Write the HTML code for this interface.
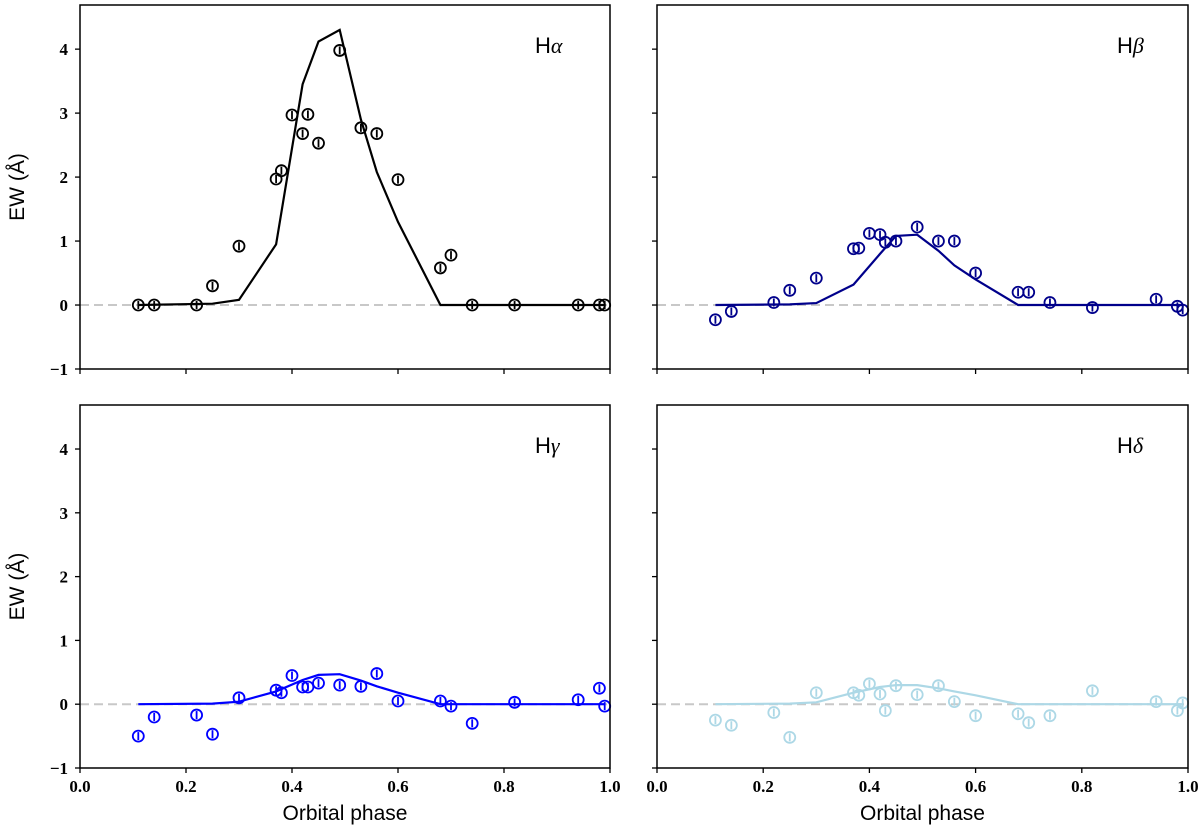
<!DOCTYPE html>
<html><head><meta charset="utf-8"><style>
body{margin:0;background:#fff}
</style></head><body>
<svg id="c" width="1200" height="829" xmlns="http://www.w3.org/2000/svg"></svg>
<script>
const phases=[0.11,0.14,0.22,0.25,0.30,0.37,0.38,0.40,0.42,0.43,0.45,0.49,0.53,0.56,0.60,0.68,0.70,0.74,0.82,0.94,0.98,0.99];
const haObs=[0,0,0,0.3,0.92,1.97,2.1,2.97,2.68,2.98,2.53,3.98,2.77,2.68,1.96,0.58,0.78,0,0,0,0,0];
const hbObs=[-0.23,-0.1,0.04,0.23,0.42,0.88,0.89,1.12,1.1,0.98,1.0,1.22,1.0,1.0,0.5,0.2,0.2,0.04,-0.04,0.09,-0.02,-0.08];
const hgObs=[-0.5,-0.2,-0.17,-0.47,0.1,0.22,0.18,0.45,0.27,0.27,0.33,0.3,0.28,0.48,0.05,0.05,-0.03,-0.3,0.03,0.07,0.25,-0.03];
const hdObs=[-0.25,-0.33,-0.13,-0.52,0.18,0.18,0.14,0.32,0.16,-0.1,0.29,0.15,0.29,0.04,-0.18,-0.15,-0.29,-0.18,0.21,0.04,-0.1,0.02];
const modelPhases=[0.11,0.25,0.30,0.37,0.42,0.45,0.49,0.53,0.56,0.60,0.68,0.74,0.99];
const haModel=[0,0.02,0.08,0.95,3.45,4.12,4.3,2.9,2.08,1.3,0,0,0];
const hbModel=[0,0.01,0.03,0.32,0.8,1.08,1.1,0.85,0.62,0.4,0,0,0];
const hgModel=[0,0.01,0.04,0.2,0.38,0.46,0.47,0.37,0.28,0.18,0,0,0];
const hdModel=[0,0.01,0.03,0.18,0.27,0.3,0.3,0.25,0.2,0.14,0,0,0];
const xTicks=[0,0.2,0.4,0.6,0.8,1.0];
const xTickLabels=["0.0","0.2","0.4","0.6","0.8","1.0"];
const yTicks=[-1,0,1,2,3,4];
const yTickLabels=["\u22121","0","1","2","3","4"];

const NS="http://www.w3.org/2000/svg";
const svg=document.getElementById('c');
const SERIF='Liberation Serif, serif', SANS='Liberation Sans, sans-serif';
function mk(tag,attrs,parent){const e=document.createElementNS(NS,tag);for(const k in attrs)e.setAttribute(k,attrs[k]);(parent||svg).appendChild(e);return e;}
const panels=[
 {key:'h-alpha',x0:80,x1:610,y0:5,y1:369,obs:haObs,mod:haModel,col:'#000000',lab:'α',lx:535,ly:53,left:true,bottom:false},
 {key:'h-beta',x0:657,x1:1188,y0:5,y1:369,obs:hbObs,mod:hbModel,col:'#00008b',lab:'β',lx:1117,ly:53,left:false,bottom:false},
 {key:'h-gamma',x0:80,x1:610,y0:405,y1:768,obs:hgObs,mod:hgModel,col:'#0000ff',lab:'γ',lx:535,ly:453,left:true,bottom:true},
 {key:'h-delta',x0:657,x1:1188,y0:405,y1:768,obs:hdObs,mod:hdModel,col:'#add8e6',lab:'δ',lx:1117,ly:453,left:false,bottom:true}
];
const YMIN=-1,YMAX=4.69;
panels.forEach(p=>{
  const g=mk('g',{});
  
  
  const X=v=>p.x0+(p.x1-p.x0)*v;
  const Y=v=>p.y1-(p.y1-p.y0)*(v-YMIN)/(YMAX-YMIN);
  const z=mk('line',{x1:p.x0,x2:p.x1,y1:Y(0),y2:Y(0),stroke:'#c8c8c8','stroke-width':2,'stroke-dasharray':'9,5'},g);
  
  const d=modelPhases.map((v,i)=>(i?'L':'M')+X(v).toFixed(1)+','+Y(p.mod[i]).toFixed(1)).join('');
  const ml=mk('path',{d:d,fill:'none',stroke:p.col,'stroke-width':2.2},g);
  
  phases.forEach((v,i)=>{
    const cx=X(v),cy=Y(p.obs[i]);
    const pt=mk('g',{},g);
    
    
    mk('circle',{cx:cx,cy:cy,r:5.5,fill:'none',stroke:p.col,'stroke-width':1.8},pt);
    mk('line',{x1:cx,x2:cx,y1:cy-4,y2:cy+4,stroke:p.col,'stroke-width':1.8},pt);
  });
  const fr=mk('rect',{x:p.x0,y:p.y0,width:p.x1-p.x0,height:p.y1-p.y0,fill:'none',stroke:'#000','stroke-width':1.5},g);
  
  xTicks.forEach((v,i)=>{
    mk('line',{x1:X(v),x2:X(v),y1:p.y1,y2:p.y1+5,stroke:'#000','stroke-width':1.3},g);
    if(p.bottom){const t=mk('text',{x:X(v),y:p.y1+24,'text-anchor':'middle','font-size':17,'font-weight':'bold','font-family':SERIF},g);t.textContent=xTickLabels[i];
      }
  });
  yTicks.forEach((v,i)=>{
    mk('line',{x1:p.x0-5,x2:p.x0,y1:Y(v),y2:Y(v),stroke:'#000','stroke-width':1.3},g);
    if(p.left){const t=mk('text',{x:p.x0-12,y:Y(v)+6,'text-anchor':'end','font-size':17,'font-weight':'bold','font-family':SERIF},g);t.textContent=yTickLabels[i];
      }
  });
  const lt=mk('text',{x:p.lx,y:p.ly,'font-size':22,'font-family':SANS},g);
  
  lt.innerHTML='H<tspan font-style="italic" font-family="Liberation Serif, serif">'+p.lab+'</tspan>';
  if(p.left){const yl=mk('text',{x:0,y:0,transform:'translate(24,'+((p.y0+p.y1)/2)+') rotate(-90)','text-anchor':'middle','font-size':21,'font-family':SANS},g);
    yl.textContent='EW (Å)';}
  if(p.bottom){const xl=mk('text',{x:(p.x0+p.x1)/2,y:820,'text-anchor':'middle','font-size':21,'font-family':SANS},g);
    xl.textContent='Orbital phase';}
});
</script>
</body></html>
